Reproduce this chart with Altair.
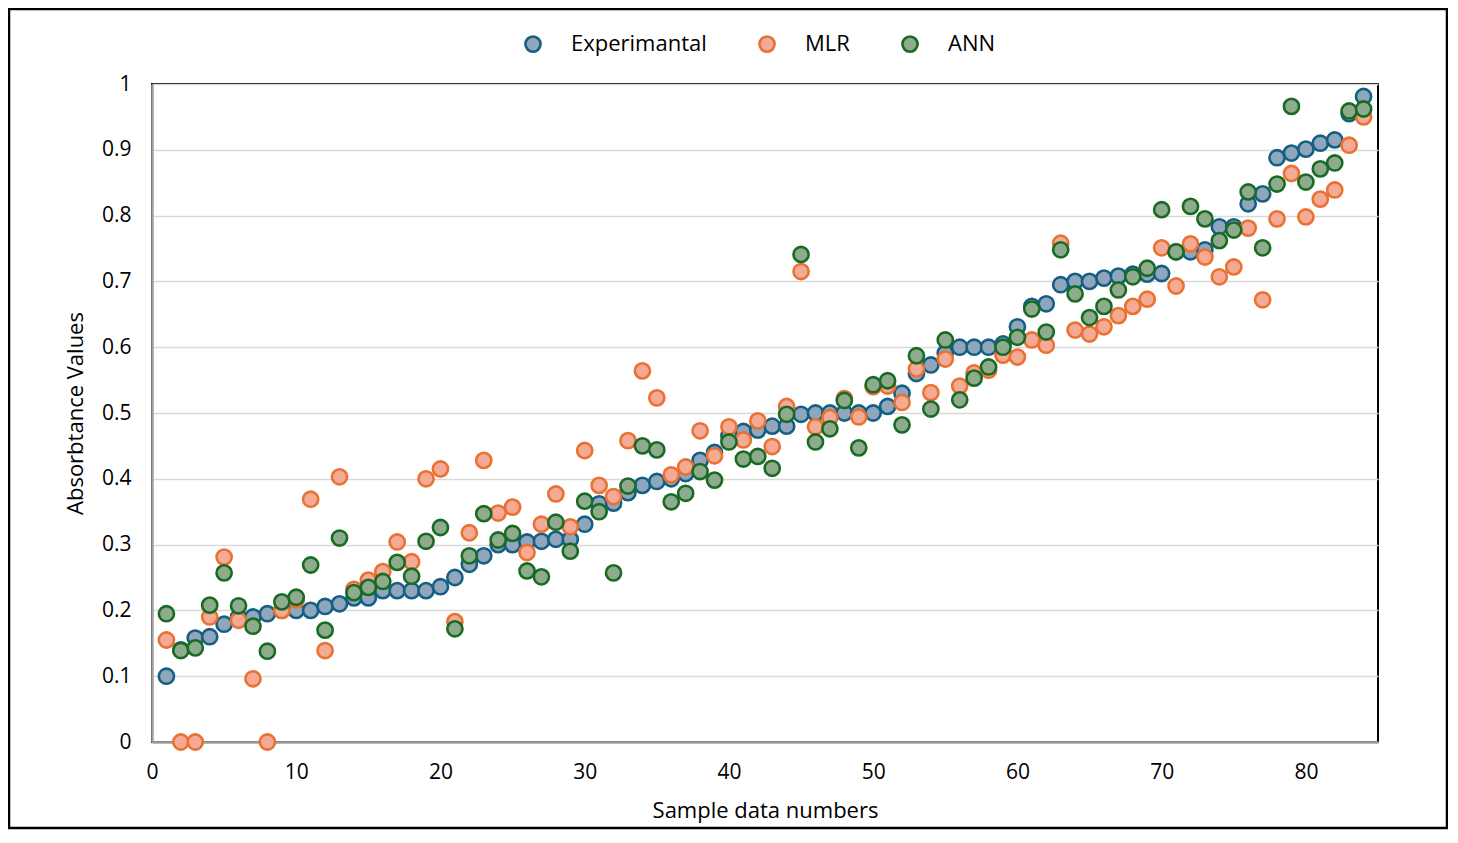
import altair as alt
import pandas as pd

samples = list(range(1, 85))

experimental = [0.100, 0.140, 0.158, 0.160, 0.179, 0.190, 0.190, 0.195, 0.200, 0.200,
                0.200, 0.206, 0.210, 0.219, 0.219, 0.230, 0.230, 0.230, 0.230, 0.236,
                0.250, 0.270, 0.283, 0.300, 0.300, 0.304, 0.305, 0.308, 0.308, 0.331,
                0.362, 0.363, 0.379, 0.390, 0.396, 0.400, 0.408, 0.428, 0.440, 0.465,
                0.472, 0.474, 0.480, 0.480, 0.498, 0.500, 0.500, 0.500, 0.500, 0.500,
                0.510, 0.530, 0.560, 0.573, 0.591, 0.600, 0.600, 0.600, 0.605, 0.631,
                0.662, 0.666, 0.695, 0.700, 0.700, 0.705, 0.708, 0.711, 0.711, 0.712,
                0.745, 0.745, 0.748, 0.783, 0.783, 0.818, 0.833, 0.888, 0.895, 0.901,
                0.910, 0.915, 0.955, 0.981]

mlr = [0.155, 0.000, 0.000, 0.190, 0.281, 0.185, 0.096, 0.000, 0.200, 0.216,
       0.369, 0.139, 0.403, 0.232, 0.246, 0.259, 0.304, 0.274, 0.400, 0.415,
       0.183, 0.318, 0.428, 0.348, 0.357, 0.288, 0.331, 0.377, 0.327, 0.443,
       0.390, 0.373, 0.458, 0.564, 0.523, 0.406, 0.418, 0.473, 0.435, 0.479,
       0.459, 0.488, 0.449, 0.510, 0.715, 0.479, 0.493, 0.522, 0.494, 0.540,
       0.541, 0.516, 0.567, 0.531, 0.582, 0.541, 0.561, 0.565, 0.588, 0.585,
       0.611, 0.603, 0.758, 0.626, 0.620, 0.631, 0.648, 0.662, 0.673, 0.751,
       0.693, 0.757, 0.737, 0.707, 0.722, 0.781, 0.672, 0.795, 0.864, 0.798,
       0.825, 0.839, 0.907, 0.950]

ann = [0.195, 0.139, 0.143, 0.208, 0.257, 0.207, 0.176, 0.138, 0.213, 0.220,
       0.269, 0.170, 0.310, 0.227, 0.235, 0.244, 0.273, 0.252, 0.305, 0.326,
       0.172, 0.283, 0.347, 0.307, 0.317, 0.260, 0.251, 0.334, 0.290, 0.366,
       0.350, 0.257, 0.389, 0.450, 0.444, 0.365, 0.378, 0.411, 0.398, 0.456,
       0.430, 0.434, 0.416, 0.498, 0.741, 0.456, 0.476, 0.519, 0.447, 0.543,
       0.549, 0.482, 0.587, 0.506, 0.611, 0.520, 0.553, 0.570, 0.600, 0.615,
       0.658, 0.623, 0.748, 0.681, 0.645, 0.662, 0.687, 0.707, 0.720, 0.809,
       0.745, 0.814, 0.795, 0.762, 0.778, 0.836, 0.751, 0.848, 0.966, 0.851,
       0.871, 0.880, 0.959, 0.962]

series_names = ["Experimantal", "MLR", "ANN"]
fill_colors = ["#8FA6BC", "#F4AA94", "#8EAB8E"]
stroke_colors = ["#156082", "#E97132", "#196B24"]
x_ticks = [0, 10, 20, 30, 40, 50, 60, 70, 80]
y_ticks = [0, 0.1, 0.2, 0.3, 0.4, 0.5, 0.6, 0.7, 0.8, 0.9, 1.0]

rows = []
for name, vals in zip(series_names, [experimental, mlr, ann]):
    for s, v in zip(samples, vals):
        rows.append({"Sample": s, "Value": v, "Series": name})
df = pd.DataFrame(rows)

FONT = "Open Sans"

legend = alt.Legend(
    title=None, orient="none", direction="horizontal",
    legendX=370, legendY=-51, padding=0,
    labelFontSize=22, labelFont=FONT, labelColor="#000",
    symbolType="circle", symbolSize=230, symbolStrokeWidth=2.6,
    labelOffset=27, columnPadding=47,
)

points = alt.Chart(df).mark_circle(size=230, strokeWidth=2.6, opacity=1).encode(
    x=alt.X("Sample:Q",
            scale=alt.Scale(domain=[0, 85], nice=False, zero=False),
            axis=alt.Axis(values=x_ticks, format="d", ticks=False, grid=False,
                          labelFlush=False, labelPadding=19, titlePadding=18),
            title="Sample data numbers"),
    y=alt.Y("Value:Q",
            scale=alt.Scale(domain=[0, 1], nice=False),
            axis=alt.Axis(values=y_ticks, format=".1~f", ticks=False, grid=True,
                          labelFlush=False, labelPadding=21, titlePadding=14),
            title="Absorbtance Values"),
    fill=alt.Fill("Series:N", scale=alt.Scale(domain=series_names, range=fill_colors), legend=legend),
    stroke=alt.Stroke("Series:N", scale=alt.Scale(domain=series_names, range=stroke_colors), legend=legend),
)

frame = alt.Chart(pd.DataFrame({"k": [0]})).mark_rect(
    fill="transparent", stroke="#000", strokeWidth=2.5
).encode(
    x=alt.value(-143), x2=alt.value(1295), y=alt.value(-75), y2=alt.value(744)
)

chart = alt.layer(frame, points).properties(
    width=1226, height=658,
    autosize=alt.AutoSizeParams(type="none"),
    padding={"left": 144, "top": 76, "right": 70, "bottom": 88},
).configure_view(
    stroke="#000", strokeWidth=2
).configure_axis(
    labelFont=FONT, labelFontSize=21, labelColor="#000",
    titleFont=FONT, titleFontSize=22, titleFontWeight="normal", titleColor="#000",
    domainColor="#A0A0A0", domainWidth=2.5,
    gridColor="#D9D9D9", gridWidth=1.5,
)

chart.save("out.html", embed_options={"renderer": "svg", "actions": False})
